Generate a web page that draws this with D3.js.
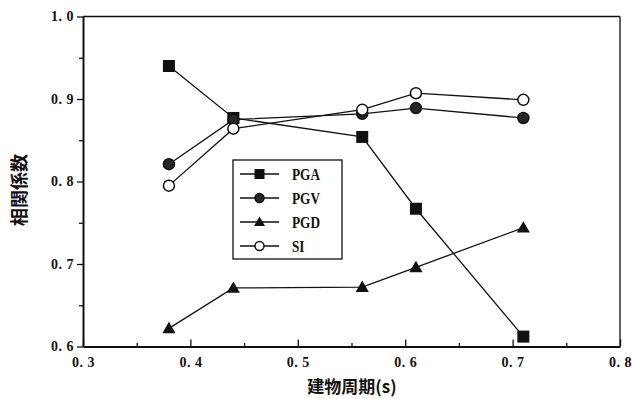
<!DOCTYPE html>
<html>
<head>
<meta charset="utf-8">
<script src="https://cdn.jsdelivr.net/npm/d3@7"></script>
<style>
  html, body { margin: 0; padding: 0; background: #fff; }
  svg { display: block; }
  .tick text { font-family: "Liberation Serif", serif; font-size: 14px; font-weight: bold; fill: #111; letter-spacing: 0.5px; }
</style>
</head>
<body>
<svg id="chart" width="632" height="399"></svg>
<script>
// Building period (s) on the x axis
const periods = [0.38, 0.44, 0.56, 0.61, 0.71];

// Correlation coefficient per intensity measure
const pga = [0.940, 0.877, 0.854, 0.767, 0.612];
const pgv = [0.821, 0.875, 0.882, 0.889, 0.877];
const pgd = [0.622, 0.671, 0.672, 0.696, 0.744];
const si  = [0.795, 0.864, 0.887, 0.907, 0.899];

const seriesNames = ["PGA", "PGV", "PGD", "SI"];

// Axis ticks
const xMajorTicks = [0.3, 0.4, 0.5, 0.6, 0.7, 0.8];
const xMinorTicks = [0.35, 0.45, 0.55, 0.65, 0.75];
const yMajorTicks = [0.6, 0.7, 0.8, 0.9, 1.0];
const yMinorTicks = [0.65, 0.75, 0.85, 0.95];

const xLabel = "建物周期(s)";
const yLabel = "相関係数";

const svg = d3.select("#chart");
const plot = { left: 83, right: 620, top: 16.5, bottom: 346.5 };

const x = d3.scaleLinear().domain([0.3, 0.8]).range([plot.left, plot.right]);
const y = d3.scaleLinear().domain([0.6, 1.0]).range([plot.bottom, plot.top]);

const fmt = v => d3.format(".1f")(v).replace(".", ". ");

// frame: thin top and right edges
svg.append("line").attr("x1", plot.left).attr("x2", plot.right)
  .attr("y1", plot.top).attr("y2", plot.top)
  .attr("stroke", "#111").attr("stroke-width", 1.3);
svg.append("line").attr("x1", plot.right).attr("x2", plot.right)
  .attr("y1", plot.top).attr("y2", plot.bottom)
  .attr("stroke", "#111").attr("stroke-width", 1.3);

// x axis: ticks point into the plot
svg.append("g").attr("transform", `translate(0,${plot.bottom})`)
  .call(d3.axisBottom(x).tickValues(xMajorTicks).tickFormat(fmt)
    .tickSizeInner(-7).tickSizeOuter(0).tickPadding(11));
svg.append("g").attr("transform", `translate(0,${plot.bottom})`)
  .call(d3.axisBottom(x).tickValues(xMinorTicks).tickFormat("")
    .tickSizeInner(-3.5).tickSizeOuter(0))
  .select(".domain").remove();

// y axis: ticks point outward
svg.append("g").attr("transform", `translate(${plot.left},0)`)
  .call(d3.axisLeft(y).tickValues(yMajorTicks).tickFormat(fmt)
    .tickSizeInner(6).tickSizeOuter(0).tickPadding(3));
svg.append("g").attr("transform", `translate(${plot.left},0)`)
  .call(d3.axisLeft(y).tickValues(yMinorTicks).tickFormat("")
    .tickSizeInner(4).tickSizeOuter(0))
  .select(".domain").remove();

svg.selectAll(".domain").attr("stroke", "#111").attr("stroke-width", 2);
svg.selectAll(".tick line").attr("stroke", "#111").attr("stroke-width", 1.3);

// axis titles
svg.append("text")
  .attr("x", 352).attr("y", 393)
  .attr("text-anchor", "middle")
  .attr("font-family", "'Noto Sans CJK JP', sans-serif")
  .attr("font-weight", "bold")
  .attr("font-size", 17)
  .attr("fill", "#111")
  .text(xLabel);

svg.append("text")
  .attr("transform", "translate(26,190) rotate(-90)")
  .attr("text-anchor", "middle")
  .attr("font-family", "'Noto Sans CJK JP', sans-serif")
  .attr("font-weight", "bold")
  .attr("font-size", 18)
  .attr("fill", "#111")
  .text(yLabel);

// marker drawers
function drawMarker(g, type, cx, cy, s) {
  if (type === "PGA") {
    g.append("rect").attr("x", cx - s / 2).attr("y", cy - s / 2)
      .attr("width", s).attr("height", s).attr("fill", "#111");
  } else if (type === "PGV") {
    g.append("circle").attr("cx", cx).attr("cy", cy).attr("r", s / 2 - 0.5)
      .attr("fill", "#262626").attr("stroke", "#111").attr("stroke-width", 1.5);
  } else if (type === "PGD") {
    const h = s * 0.9, w = s * 1.1;
    g.append("path")
      .attr("d", `M${cx},${cy - h * 0.6}L${cx + w / 2},${cy + h * 0.45}L${cx - w / 2},${cy + h * 0.45}Z`)
      .attr("fill", "#111");
  } else {
    g.append("circle").attr("cx", cx).attr("cy", cy).attr("r", s / 2 - 0.5)
      .attr("fill", "#fff").attr("stroke", "#111").attr("stroke-width", 1.5);
  }
}

const seriesData = { PGA: pga, PGV: pgv, PGD: pgd, SI: si };
const line = d3.line().x(d => x(d[0])).y(d => y(d[1]));

seriesNames.forEach(name => {
  const pts = periods.map((p, i) => [p, seriesData[name][i]]);
  svg.append("path").datum(pts).attr("d", line)
    .attr("fill", "none").attr("stroke", "#111").attr("stroke-width", 1.3);
});
seriesNames.forEach(name => {
  const g = svg.append("g");
  periods.forEach((p, i) => drawMarker(g, name, x(p), y(seriesData[name][i]), 12));
});

// legend
const legend = svg.append("g");
legend.append("rect").attr("x", 233).attr("y", 160).attr("width", 109).attr("height", 99)
  .attr("fill", "#fff").attr("stroke", "#111").attr("stroke-width", 1.3);
seriesNames.forEach((name, i) => {
  const ly = 174 + i * 24;
  legend.append("line").attr("x1", 240).attr("x2", 279).attr("y1", ly).attr("y2", ly)
    .attr("stroke", "#111").attr("stroke-width", 1.5);
  drawMarker(legend, name, 259.5, ly, 10);
  legend.append("text")
    .attr("transform", `translate(292,${ly + 6}) scale(0.78,1)`)
    .attr("font-family", "'Liberation Serif', serif")
    .attr("font-weight", "bold")
    .attr("font-size", 17)
    .attr("fill", "#111")
    .text(name);
});
</script>
</body>
</html>
